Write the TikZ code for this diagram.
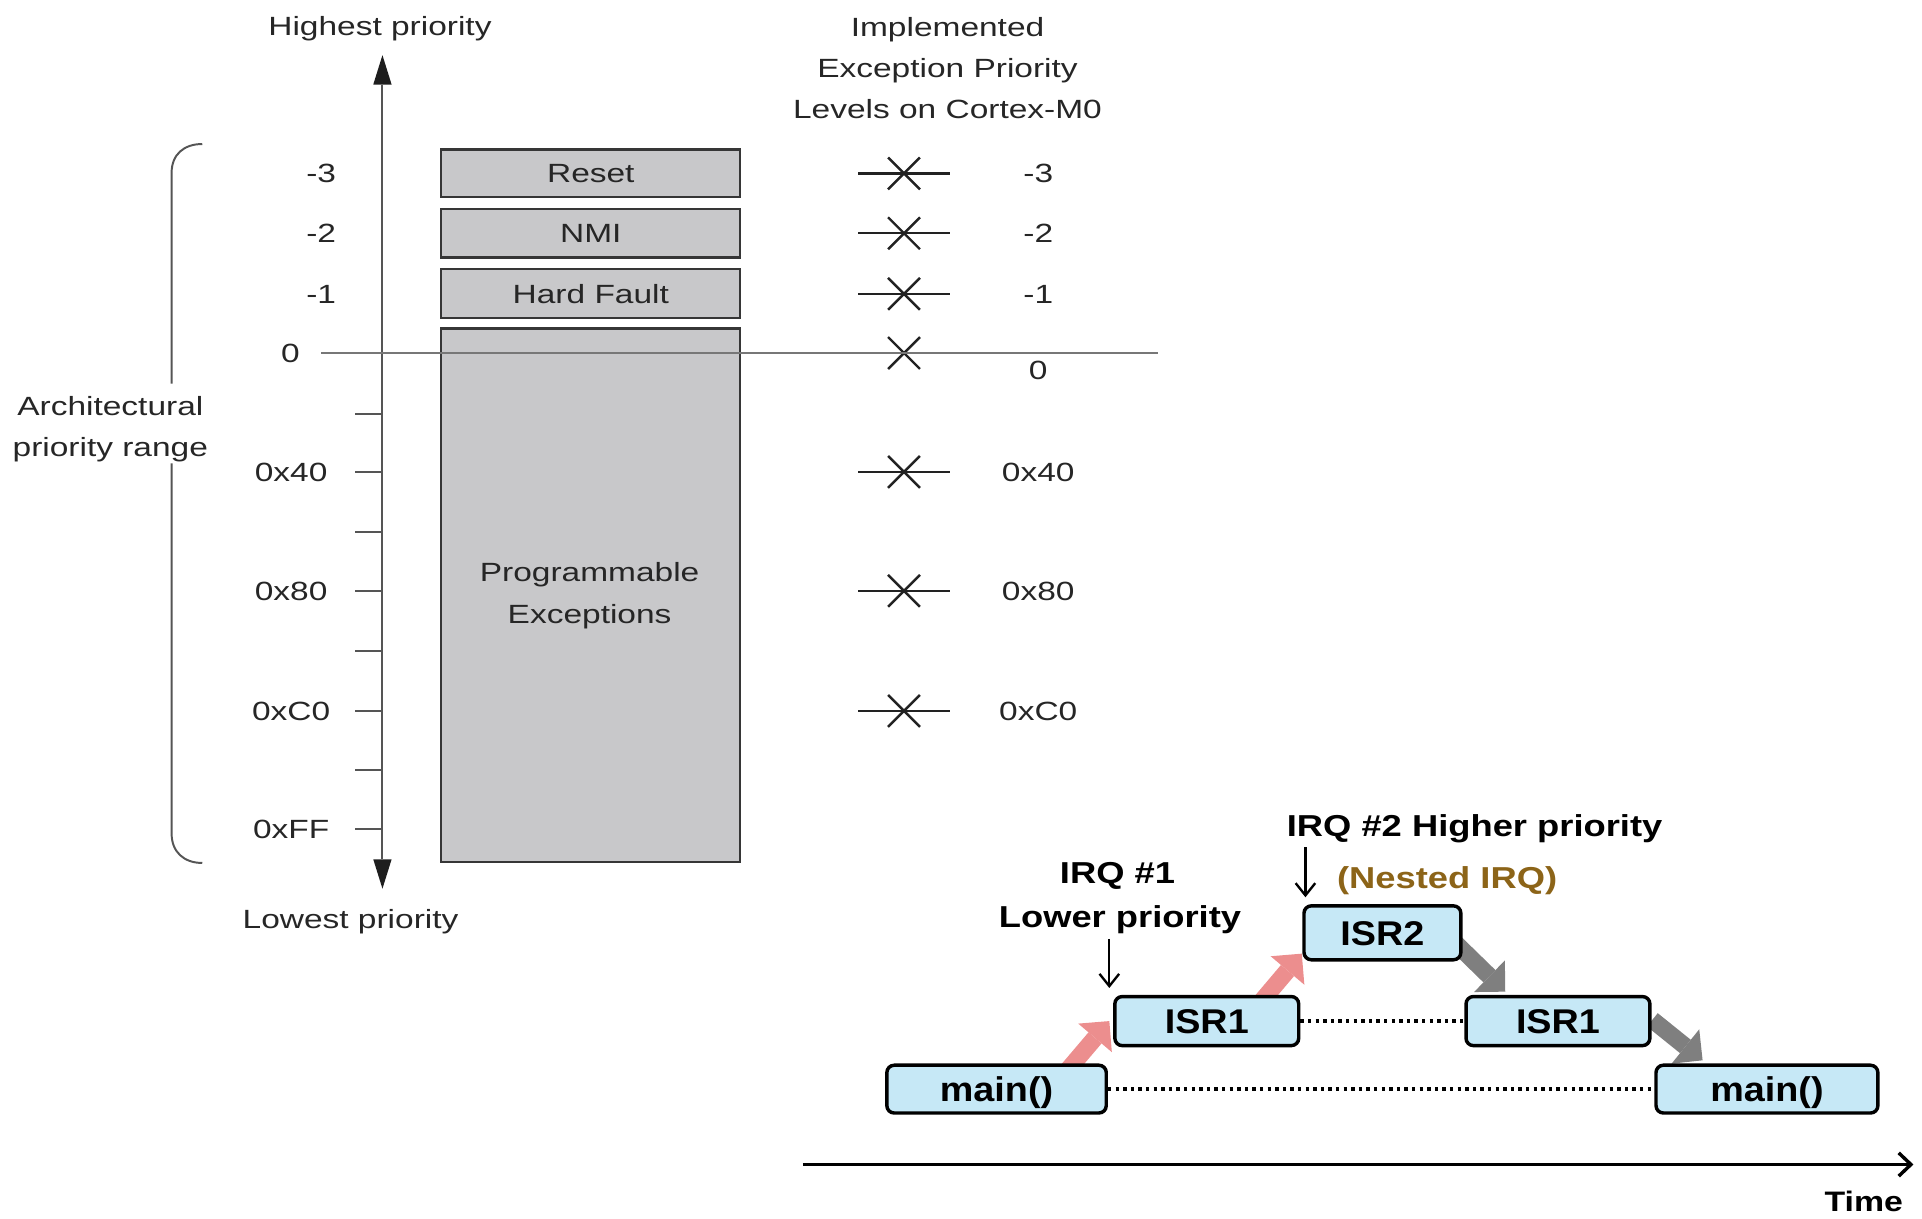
\documentclass[tikz,border=0pt]{standalone}
\usepackage{fontspec}
\setmainfont{Liberation Sans}
\newfontfamily\lfont[FakeStretch=1.27]{Liberation Sans}
\newfontfamily\bfont[FakeStretch=1.2]{Liberation Sans}
\newfontfamily\xfont[FakeStretch=1.1]{Liberation Sans}
\usetikzlibrary{arrows.meta}
\pgfdeclarelayer{bg}
\pgfsetlayers{bg,main}
\definecolor{txt}{HTML}{262626}
\definecolor{boxgray}{HTML}{C8C8CA}
\definecolor{edgegray}{HTML}{363636}
\definecolor{axisgray}{HTML}{555555}
\definecolor{arrowdark}{HTML}{1E1E1E}
\definecolor{zline}{HTML}{777777}
\definecolor{crossc}{HTML}{222222}
\definecolor{isrblue}{HTML}{C6E8F6}
\definecolor{pinkarr}{HTML}{EC8E8E}
\definecolor{grayarr}{HTML}{7F7F7F}
\definecolor{nested}{HTML}{8C6418}
\begin{document}
\begin{tikzpicture}[x=1pt,y=-1pt,
  lt/.style={font=\lfont\fontsize{21.5}{26}\selectfont, text=txt, inner sep=0pt, text height=15.5pt, text depth=0pt},
  bt/.style={font=\bfont\bfseries\fontsize{24.7}{30}\selectfont, text=black, inner sep=0pt, text height=17.7pt, text depth=0pt},
  exbox/.style={lt, draw=edgegray, line width=1.8pt, fill=boxgray, minimum width=244pt},
  isr/.style={draw=black, line width=2.8pt, fill=isrblue, rounded corners=6pt, inner sep=0pt, font=\xfont\bfseries\fontsize{28}{30}\selectfont, text height=20.4pt, text depth=0pt},
  xmark/.style={line width=2pt, draw=crossc},
  tickline/.style={line width=1.7pt, draw=axisgray},
  blockp/.style={draw=pinkarr, line width=14pt, -{Triangle[length=18pt,width=36pt,line width=0pt]}},
  blockg/.style={draw=grayarr, line width=14pt, -{Triangle[length=18pt,width=36pt,line width=0pt]}},
  dotl/.style={line width=2.8pt, dash pattern=on 2.8pt off 3.4pt},
  thinarr/.style={line width=1.9pt, -{Straight Barb[length=10pt,width=16pt]}}
]
\useasboundingbox (0,0) rectangle (1568,994);

% ---------- left part: priority axis ----------
\node[lt] (hp) at (310,20.8) {Highest priority};
\node[lt] (lp) at (286,750) {Lowest priority};
\node[lt] (impl1) at (773,22) {Implemented};
\node[lt] (impl2) at (773,55.7) {Exception Priority};
\node[lt] (impl3) at (773,89.2) {Levels on Cortex-M0};
\node[lt] (arch1) at (90,331) {Architectural};
\node[lt] (arch2) at (90,365) {priority range};

\node[exbox, minimum height=39pt] (reset) at (482,141.5) {Reset};
\node[exbox, minimum height=39.5pt] (nmi) at (482,190.3) {NMI};
\node[exbox, minimum height=40pt] (hf) at (482,239.7) {Hard Fault};
\node[exbox, minimum height=435pt] (prog) at (482,485.5) {};
\node[lt] (prog1) at (481,467) {Programmable};
\node[lt] (prog2) at (481,501) {Exceptions};

\coordinate (axtop) at (312,45);
\coordinate (axbot) at (312,725);
\draw[line width=1.7pt, draw=axisgray,
  {Triangle[length=24pt,width=15pt,line width=0pt,fill=arrowdark]}-{Triangle[length=24pt,width=15pt,line width=0pt,fill=arrowdark]}]
  (axtop) -- (axbot);
\foreach \yy in {338,385,434,482,531,580,628,676} \draw[tickline] (290,\yy) -- (312,\yy);

\foreach \yy/\t [count=\i] in {141.5/-3,190.3/-2,239.7/-1} \node[lt] (ln\i) at (262,\yy) {\t};
\node[lt] (l0) at (237,288) {0};
\foreach \yy/\t [count=\i] in {385/0x40,482/0x80,580/0xC0,676/0xFF} \node[lt] (lh\i) at (237.5,\yy) {\t};

% bracket
\draw[line width=1.6pt, draw=axisgray] (165,117.5) .. controls (150,117.5) and (140,126) .. (140,141) -- (140,313);
\draw[line width=1.6pt, draw=axisgray] (140,378) -- (140,680) .. controls (140,695) and (150,704) .. (165,704);

% crosses
\foreach \yy in {141.5,190.3,239.7,288,385,482,580} {
  \draw[xmark] (700,\yy) -- (775,\yy);
  \draw[xmark] ({724.5},{\yy-13}) -- ({750.5},{\yy+13});
  \draw[xmark] ({724.5},{\yy+13}) -- ({750.5},{\yy-13});
}
\foreach \yy/\t [count=\i] in {141.5/-3,190.3/-2,239.7/-1,302/0,385/0x40,482/0x80,580/0xC0} \node[lt] (rn\i) at (847,\yy) {\t};

\coordinate (z0) at (262,288);
\coordinate (z1) at (945,288);
\draw[line width=1.8pt, draw=zline] (z0) -- (z1);

% ---------- bottom right: nested interrupts ----------
\node[isr, minimum width=179pt, minimum height=39pt] (m1) at (813,888.5) {main()};
\node[isr, minimum width=150pt, minimum height=40pt] (s1a) at (984.5,833) {ISR1};
\node[isr, minimum width=128pt, minimum height=44pt] (s2) at (1127.8,761) {ISR2};
\node[isr, minimum width=150pt, minimum height=40pt] (s1b) at (1271,833) {ISR1};
\node[isr, minimum width=181pt, minimum height=39pt] (m2) at (1441.5,888.5) {main()};

\draw[dotl] (s1a.east) -- (s1b.west);
\draw[dotl] (m1.east) -- (m2.west);

\coordinate (pa1s) at (871,873);
\coordinate (pa1e) at (905,833);
\coordinate (pa2s) at (1029,817);
\coordinate (pa2e) at (1062,778);
\coordinate (ga1s) at (1188,770);
\coordinate (ga1e) at (1228,809);
\coordinate (ga2s) at (1348,832);
\coordinate (ga2e) at (1389,865);
\begin{pgfonlayer}{bg}
\draw[blockp] (pa1s) -- (pa1e);
\draw[blockp] (pa2s) -- (pa2e);
\draw[blockg] (ga1s) -- (ga1e);
\draw[blockg] (ga2s) -- (ga2e);
\end{pgfonlayer}

\node[bt] (irq1) at (911.7,711.8) {IRQ \#1};
\node[bt] (irq1b) at (913.7,747.7) {Lower priority};
\node[bt] (irq2) at (1203,673.8) {IRQ \#2 Higher priority};
\node[bt, text=nested] (nest) at (1180.6,715.9) {(Nested IRQ)};

\coordinate (q1s) at (905,766);
\coordinate (q1e) at (905,806);
\coordinate (q2s) at (1065,691);
\coordinate (q2e) at (1065,732);
\draw[thinarr] (q1s) -- (q1e);
\draw[thinarr] (q2s) -- (q2e);

\coordinate (t0) at (655,950);
\coordinate (t1) at (1561,950);
\draw[line width=2.8pt, -{Straight Barb[length=10pt,width=19pt]}] (t0) -- (t1);
\node[bt, font=\bfont\bfseries\fontsize{23}{28}\selectfont, text height=16.4pt] (time) at (1520.5,980) {Time};
\end{tikzpicture}
\end{document}
